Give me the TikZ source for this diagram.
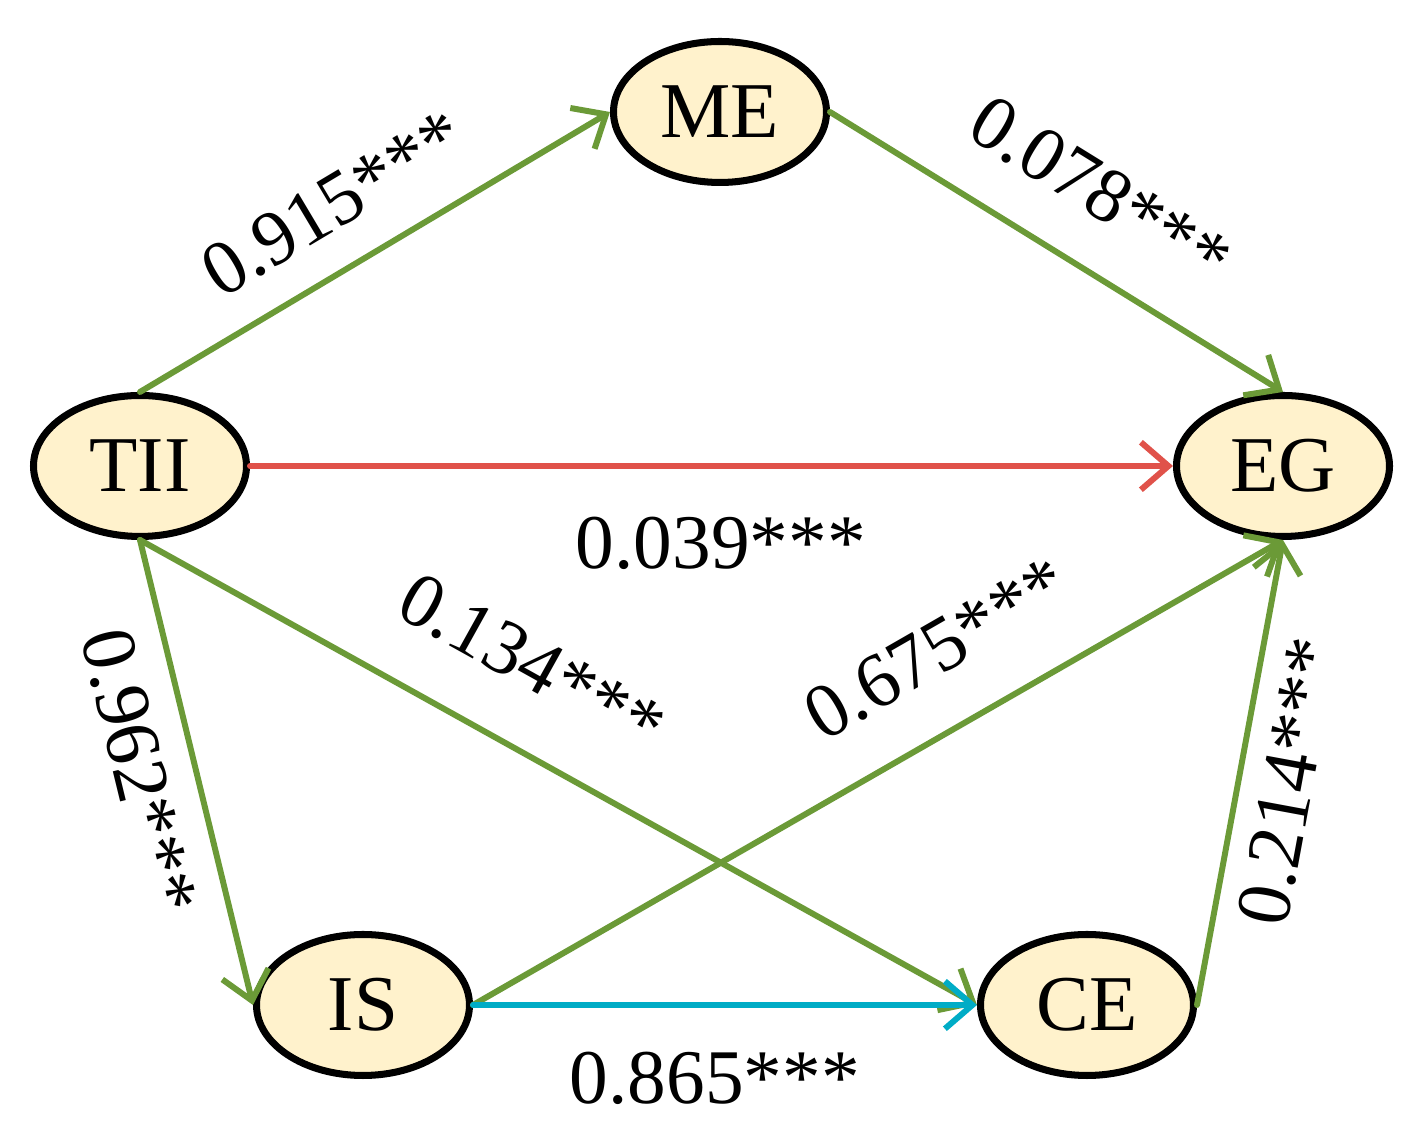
\documentclass[tikz,border=0pt]{standalone}
\usepackage{fontspec}
\setmainfont{Liberation Serif}
\usepackage{xcolor}
\usetikzlibrary{positioning,shapes,arrows.meta,calc}
\definecolor{leaf}{HTML}{6B9A37}
\definecolor{tomato}{HTML}{E0524A}
\definecolor{lagoon}{HTML}{00ACC6}
\definecolor{cream}{HTML}{FFF2CC}

\begin{document}
\begin{tikzpicture}[
    var/.style={ellipse, draw=black, line width=4pt, fill=cream, minimum width=4.26cm, minimum height=2.82cm, inner sep=0pt, font=\fontsize{45}{50}\selectfont},
    arrow/.style={-{Straight Barb[length=5.5mm,width=9.5mm]}, line width=3.4pt, line cap=round, draw=leaf},
    coef/.style={font=\fontsize{44}{50}\selectfont, inner sep=0pt, sloped}
]
    \useasboundingbox (0,0) rectangle (28.48,22.78);

    % Variables
    \node[var] (tii) at (2.8,13.46) {TII};
    \node[var] (me) at (14.4,20.54) {ME};
    \node[var] (eg) at (25.66,13.46) {EG};
    \node[var] (is) at (7.26,2.68) {IS};
    \node[var] (ce) at (21.74,2.68) {CE};

    % Upper paths
    \draw[arrow] (tii.north) -- node[coef, above=0.68cm, pos=0.48] {0.915***} (me.west);
    \draw[arrow] (me.east) -- node[coef, above=0.92cm, pos=0.51] {0.078***} (eg.north);
    \draw[arrow, draw=tomato] (tii.east) -- node[coef, below=0.96cm, pos=0.51] {0.039***} (eg.west);

    % Lower paths
    \draw[arrow] (tii.south) -- node[coef, below=0.52cm, pos=0.47] {0.962***} (is.west);
    \draw[arrow] (tii.south) -- node[coef, above=1.08cm, pos=0.42] {0.134***} (ce.west);
    \draw[arrow] (is.east) -- node[coef, above=0.98cm, pos=0.62] {0.675***} (eg.south);
    \draw[arrow] (ce.east) -- node[coef, below=0.4cm, pos=0.50] {0.214***} (eg.south);
    \draw[arrow, draw=lagoon] (is.east) -- node[coef, below=0.88cm, pos=0.48] {0.865***} (ce.west);
\end{tikzpicture}
\end{document}
